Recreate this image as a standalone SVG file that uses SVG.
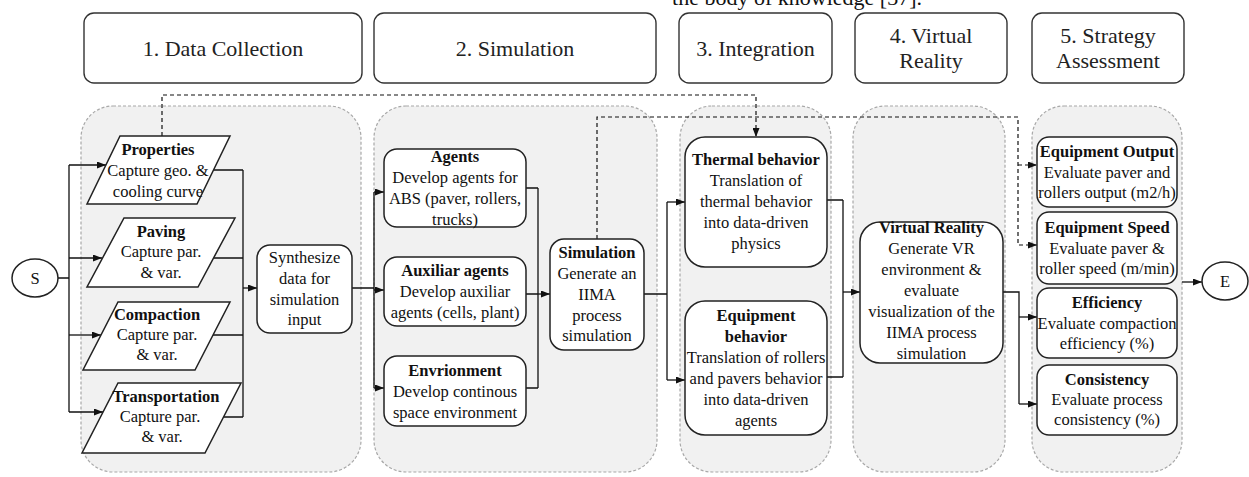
<svg xmlns="http://www.w3.org/2000/svg" width="1249" height="477" viewBox="0 0 1249 477">
<defs>
<marker id="arr" markerWidth="9" markerHeight="7" refX="9" refY="3.5" orient="auto" markerUnits="userSpaceOnUse">
<path d="M0,0 L9,3.5 L0,7 z" fill="#111"/>
</marker>
</defs>
<style>
text{font-family:"Liberation Serif","Times New Roman",serif;fill:#111}
.hd{font-size:22px;text-anchor:middle;fill:#222}
.t{font-size:16.5px;text-anchor:middle}
.b{font-weight:bold}
.hbox{fill:#fff;stroke:#333;stroke-width:1.4}
.grp{fill:#f1f1f1;stroke:#a8a8a8;stroke-width:1.2;stroke-dasharray:3 2}
.node{fill:#fff;stroke:#222;stroke-width:1.5}
.ln{fill:none;stroke:#111;stroke-width:1.3}
.dl{fill:none;stroke:#111;stroke-width:1.2;stroke-dasharray:4 3}
</style>
<rect width="1249" height="477" fill="#fff"/>
<text x="922" y="5" font-size="22" text-anchor="end">the body of knowledge [37].</text>

<g id="headers">
<g id="h1"><rect class="hbox" x="84" y="13" width="278" height="70" rx="10"/><text class="hd" x="223" y="56">1. Data Collection</text></g>
<g id="h2"><rect class="hbox" x="374" y="13" width="282" height="70" rx="10"/><text class="hd" x="515" y="56">2. Simulation</text></g>
<g id="h3"><rect class="hbox" x="679" y="13" width="153" height="70" rx="10"/><text class="hd" x="755.5" y="56">3. Integration</text></g>
<g id="h4"><rect class="hbox" x="855" y="13" width="152" height="70" rx="10"/><text class="hd" x="931" y="43">4. Virtual</text><text class="hd" x="931" y="68">Reality</text></g>
<g id="h5"><rect class="hbox" x="1032" y="13" width="152" height="70" rx="10"/><text class="hd" x="1108" y="43">5. Strategy</text><text class="hd" x="1108" y="68">Assessment</text></g>
</g>

<g id="groups">
<rect class="grp" x="81" y="106" width="280" height="366" rx="32"/>
<rect class="grp" x="374" y="106" width="283" height="366" rx="32"/>
<rect class="grp" x="680" y="106" width="151" height="366" rx="32"/>
<rect class="grp" x="853" y="106" width="152" height="366" rx="32"/>
<rect class="grp" x="1032" y="106" width="150" height="366" rx="32"/>
</g>

<g id="connectors">
<path class="ln" d="M58,278 H69 M69,165 V412"/>
<path class="ln" d="M69,165 H106" marker-end="url(#arr)"/>
<path class="ln" d="M69,258 H102" marker-end="url(#arr)"/>
<path class="ln" d="M69,335 H101" marker-end="url(#arr)"/>
<path class="ln" d="M69,412 H103" marker-end="url(#arr)"/>
<path class="ln" d="M213,170 H243 M214,258 H243 M213,335 H243 M223,417 H243 M243,170 V417"/>
<path class="ln" d="M243,288 H257" marker-end="url(#arr)"/>
<path class="ln" d="M352,288 H374 M374,192 V388"/>
<path class="ln" d="M374,192 H384" marker-end="url(#arr)"/>
<path class="ln" d="M374,290 H384" marker-end="url(#arr)"/>
<path class="ln" d="M374,388 H384" marker-end="url(#arr)"/>
<path class="ln" d="M526,188 H538 M526,294 H538 M526,388 H538 M538,188 V388"/>
<path class="ln" d="M538,294 H550" marker-end="url(#arr)"/>
<path class="ln" d="M644,294 H667 M667,202 V380"/>
<path class="ln" d="M667,202 H685" marker-end="url(#arr)"/>
<path class="ln" d="M667,380 H685" marker-end="url(#arr)"/>
<path class="ln" d="M827,200 H843 M827,377 H843 M843,200 V377"/>
<path class="ln" d="M843,292 H860" marker-end="url(#arr)"/>
<path class="ln" d="M1003,292 H1019 V404"/>
<path class="ln" d="M1019,317 H1037" marker-end="url(#arr)"/>
<path class="ln" d="M1019,404 H1037" marker-end="url(#arr)"/>
<path class="ln" d="M1182,282 H1202" marker-end="url(#arr)"/>
<path class="dl" d="M162,136 V95 H756 V137" marker-end="url(#arr)"/>
<path class="dl" d="M597,239 V117 H1018 V245 H1037" marker-end="url(#arr)"/>
<path class="dl" d="M1018,165 H1037" marker-end="url(#arr)"/>
</g>

<g id="S"><ellipse class="node" cx="35" cy="278" rx="23" ry="19"/><text class="t" x="35" y="284">S</text></g>
<g id="E"><ellipse class="node" cx="1225" cy="281" rx="23" ry="19"/><text class="t" x="1225" y="287">E</text></g>

<g id="properties"><path class="node" d="M120,136 H230 L197,204 H87 Z"/>
<text class="t b" x="158" y="155">Properties</text><text class="t" x="158" y="176">Capture geo. &amp;</text><text class="t" x="158" y="197">cooling curve</text></g>
<g id="paving"><path class="node" d="M124,218 H235 L198,287 H87 Z"/>
<text class="t b" x="161" y="237">Paving</text><text class="t" x="161" y="257">Capture par.</text><text class="t" x="161" y="278">&amp; var.</text></g>
<g id="compaction"><path class="node" d="M118,302 H230 L195,370 H83 Z"/>
<text class="t b" x="157" y="320">Compaction</text><text class="t" x="157" y="340">Capture par.</text><text class="t" x="157" y="360">&amp; var.</text></g>
<g id="transportation"><path class="node" d="M118,383 H241 L205,453 H82 Z"/>
<text class="t b" x="166" y="402">Transportation</text><text class="t" x="160" y="422">Capture par.</text><text class="t" x="162" y="442">&amp; var.</text></g>

<g id="synthesize"><rect class="node" x="257" y="245" width="95" height="88" rx="13"/>
<text class="t" x="304.5" y="263">Synthesize</text><text class="t" x="304.5" y="284">data for</text><text class="t" x="304.5" y="305">simulation</text><text class="t" x="304.5" y="325">input</text></g>

<g id="agents"><rect class="node" x="384" y="149" width="142" height="78" rx="13"/>
<text class="t b" x="455" y="162">Agents</text><text class="t" x="455" y="183">Develop agents for</text><text class="t" x="455" y="204">ABS (paver, rollers,</text><text class="t" x="455" y="225">trucks)</text></g>
<g id="auxiliar"><rect class="node" x="384" y="257" width="142" height="69" rx="13"/>
<text class="t b" x="455" y="276">Auxiliar agents</text><text class="t" x="455" y="297">Develop auxiliar</text><text class="t" x="455" y="318">agents (cells, plant)</text></g>
<g id="environment"><rect class="node" x="384" y="356" width="142" height="70" rx="13"/>
<text class="t b" x="455" y="376">Envrionment</text><text class="t" x="455" y="397">Develop continous</text><text class="t" x="455" y="418">space environment</text></g>

<g id="simulation"><rect class="node" x="550" y="239" width="94" height="111" rx="14"/>
<text class="t b" x="597" y="258">Simulation</text><text class="t" x="597" y="279">Generate an</text><text class="t" x="597" y="300">IIMA</text><text class="t" x="597" y="321">process</text><text class="t" x="597" y="341">simulation</text></g>

<g id="thermal"><rect class="node" x="685" y="137" width="142" height="130" rx="20"/>
<text class="t b" x="756" y="165">Thermal behavior</text><text class="t" x="756" y="186">Translation of</text><text class="t" x="756" y="207">thermal behavior</text><text class="t" x="756" y="228">into data-driven</text><text class="t" x="756" y="249">physics</text></g>
<g id="equipment"><rect class="node" x="685" y="301" width="142" height="134" rx="20"/>
<text class="t b" x="756" y="321">Equipment</text><text class="t b" x="756" y="342">behavior</text><text class="t" x="756" y="363">Translation of rollers</text><text class="t" x="756" y="384">and pavers behavior</text><text class="t" x="756" y="405">into data-driven</text><text class="t" x="756" y="426">agents</text></g>

<g id="vr"><rect class="node" x="860" y="222" width="143" height="141" rx="20"/>
<text class="t b" x="931.5" y="233">Virtual Reality</text><text class="t" x="931.5" y="254">Generate VR</text><text class="t" x="931.5" y="275">environment &amp;</text><text class="t" x="931.5" y="296">evaluate</text><text class="t" x="931.5" y="317">visualization of the</text><text class="t" x="931.5" y="338">IIMA process</text><text class="t" x="931.5" y="359">simulation</text></g>

<g id="output"><rect class="node" x="1037" y="137" width="140" height="70" rx="12"/>
<text class="t b" x="1107" y="157">Equipment Output</text><text class="t" x="1107" y="178">Evaluate paver and</text><text class="t" x="1107" y="198">rollers output (m2/h)</text></g>
<g id="speed"><rect class="node" x="1037" y="212" width="140" height="72" rx="12"/>
<text class="t b" x="1107" y="233">Equipment Speed</text><text class="t" x="1107" y="254">Evaluate paver &amp;</text><text class="t" x="1107" y="274">roller speed (m/min)</text></g>
<g id="efficiency"><rect class="node" x="1037" y="288" width="140" height="70" rx="12"/>
<text class="t b" x="1107" y="308">Efficiency</text><text class="t" x="1107" y="329">Evaluate compaction</text><text class="t" x="1107" y="349">efficiency (%)</text></g>
<g id="consistency"><rect class="node" x="1037" y="365" width="140" height="70" rx="12"/>
<text class="t b" x="1107" y="385">Consistency</text><text class="t" x="1107" y="405">Evaluate process</text><text class="t" x="1107" y="425">consistency (%)</text></g>
</svg>
